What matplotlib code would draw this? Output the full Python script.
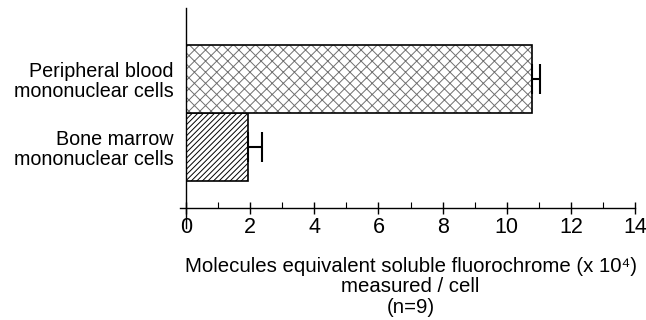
import matplotlib
matplotlib.use('Agg')
import matplotlib.pyplot as plt
from matplotlib.ticker import MultipleLocator

plt.rcParams['font.family'] = ['Liberation Sans', 'DejaVu Sans']
plt.rcParams['hatch.linewidth'] = 0.7

cells   = ['Bone marrow\nmononuclear cells', 'Peripheral blood\nmononuclear cells']
values  = [1.93, 10.8]
errors  = [0.43, 0.25]
hatches = ['//////', 'xxx']
hatch_colors = ['black', '#707070']

fig = plt.figure(figsize=(6.46, 3.2), dpi=100)
ax  = fig.add_axes([0.288, 0.35, 0.695, 0.625])

ypos = [0, 1]
for y, v, e, h, hc in zip(ypos, values, errors, hatches, hatch_colors):
    # hatch first (its colour comes from edgecolor), then a black outline
    ax.barh(y, v, height=1.0, color='white', edgecolor=hc,
            linewidth=0, hatch=h, zorder=2)
    ax.barh(y, v, height=1.0, color='none', edgecolor='black',
            linewidth=1.2, zorder=2)
    ax.errorbar(v, y, xerr=[[0], [e]], fmt='none', ecolor='black',
                elinewidth=1.5, capsize=11, capthick=1.5, zorder=3)

ax.set_xlim(0, 14)
ax.set_ylim(-0.897, 2.044)

for s in ax.spines.values():
    s.set_visible(False)

# axis lines drawn by hand so they overhang the corner like the original
ax.plot([-0.013, 1.0], [0, 0], transform=ax.transAxes, color='black',
        lw=1.0, clip_on=False, zorder=4)
ax.plot([0, 0], [-0.1, 1.0], transform=ax.transAxes, color='black',
        lw=1.0, clip_on=False, zorder=4)

ax.xaxis.set_major_locator(MultipleLocator(2))
ax.xaxis.set_minor_locator(MultipleLocator(1))
ax.tick_params(axis='x', which='minor', direction='in', length=4.3, width=0.8)
ax.tick_params(axis='x', which='major', direction='inout', length=8.6,
               width=1.0, pad=2)
for lab in ax.get_xticklabels():
    lab.set_fontsize(15.5)

ax.set_yticks(ypos)
ax.set_yticklabels(cells, fontsize=14.2, ha='right', linespacing=1.08)
ax.tick_params(axis='y', length=0, pad=9)

ax.set_xlabel('Molecules equivalent soluble fluorochrome (x 10\u2074)\nmeasured / cell\n(n=9)',
              fontsize=14.7, linespacing=1.08, labelpad=14)

fig.savefig('out.png', dpi=100)
